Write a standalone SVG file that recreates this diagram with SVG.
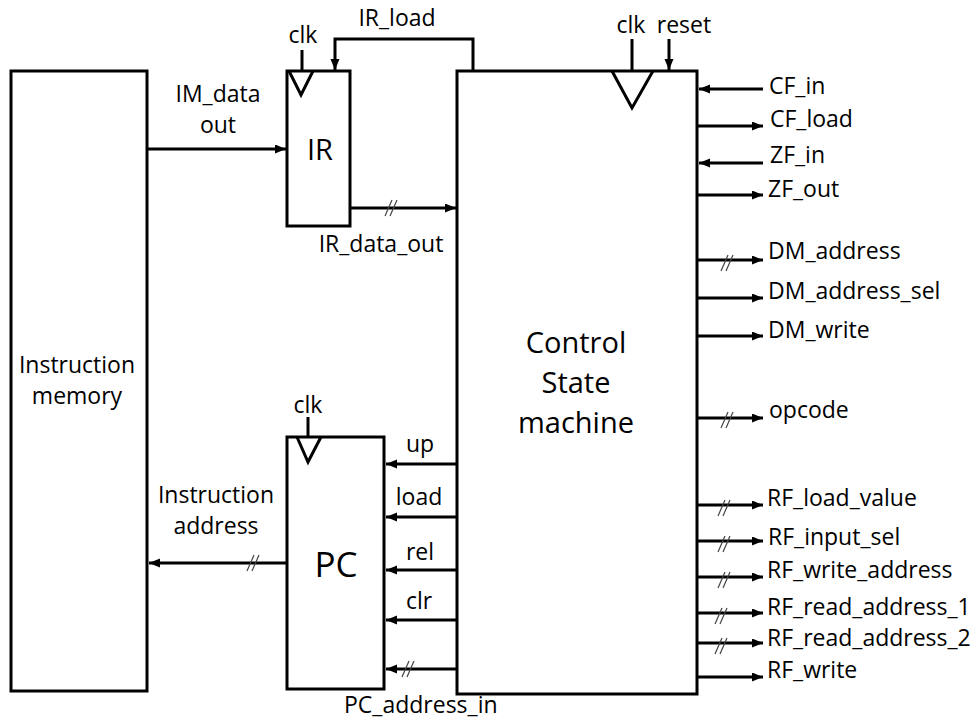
<svg xmlns="http://www.w3.org/2000/svg" width="976" height="724" viewBox="0 0 976 724">
<style>
text{font-family:"Open Sans","Liberation Sans",Arial,sans-serif;fill:#000;font-size:23px}
.box{fill:#fff;stroke:#000;stroke-width:3}
.w{fill:none;stroke:#000;stroke-width:3}
.sl{fill:none;stroke:#444;stroke-width:1.2}
.big{font-size:29px}
.mid{text-anchor:middle}
</style>
<defs>
<marker id="ah" markerUnits="userSpaceOnUse" markerWidth="12" markerHeight="10" refX="11" refY="4.5" orient="auto">
<path d="M0,0 L11,4.5 L0,9 z" fill="#000"/>
</marker>
<path id="slash" class="sl" d="M-7,8 L0,-8 M-2,8 L5,-8"/>
</defs>

<g id="instruction_memory">
<rect class="box" x="11" y="71" width="136" height="620"/>
<text class="mid" x="77" y="373">Instruction</text>
<text class="mid" x="77" y="404">memory</text>
</g>

<g id="IR">
<rect class="box" x="287" y="71" width="63" height="155"/>
<path class="w" d="M289,71 L301,95 L313,71"/>
<path class="w" d="M302,50 V71"/>
<text class="mid" x="303" y="43">clk</text>
<text class="mid big" x="320" y="160">IR</text>
</g>

<g id="PC">
<rect class="box" x="287" y="437" width="97" height="252"/>
<path class="w" d="M297,437 L308,462 L321,437"/>
<path class="w" d="M308,417 V437"/>
<text class="mid" x="308" y="413">clk</text>
<text class="mid" x="336" y="577" style="font-size:35px">PC</text>
</g>

<g id="control_state_machine">
<rect class="box" x="457" y="71" width="240" height="623"/>
<path class="w" d="M612,71 L632,108 L653,71"/>
<text class="mid big" x="576" y="353">Control</text>
<text class="mid big" x="576" y="393">State</text>
<text class="mid big" x="576" y="433">machine</text>
</g>

<g id="connectors">
<path class="w" d="M147,149 H286" marker-end="url(#ah)"/>
<text class="mid" x="218" y="102">IM_data</text>
<text class="mid" x="218" y="133">out</text>
<path class="w" d="M473,71 V39 H335 V70" marker-end="url(#ah)"/>
<text class="mid" x="397" y="26">IR_load</text>
<path class="w" d="M350,208 H456" marker-end="url(#ah)"/>
<use href="#slash" x="392" y="208"/>
<text class="mid" x="381" y="252">IR_data_out</text>
<path class="w" d="M632,39 V71"/>
<text class="mid" x="631" y="33">clk</text>
<path class="w" d="M669,39 V70" marker-end="url(#ah)"/>
<text class="mid" x="684" y="33">reset</text>
<path class="w" d="M287,563 H149" marker-end="url(#ah)"/>
<use href="#slash" x="254" y="563"/>
<text class="mid" x="216" y="503">Instruction</text>
<text class="mid" x="216" y="534">address</text>
<path class="w" d="M457,464 H386" marker-end="url(#ah)"/>
<text class="mid" x="420" y="452">up</text>
<path class="w" d="M457,517 H386" marker-end="url(#ah)"/>
<text class="mid" x="419" y="505">load</text>
<path class="w" d="M457,570 H386" marker-end="url(#ah)"/>
<text class="mid" x="420" y="560">rel</text>
<path class="w" d="M457,620 H386" marker-end="url(#ah)"/>
<text class="mid" x="419" y="609">clr</text>
<path class="w" d="M457,669 H386" marker-end="url(#ah)"/>
<use href="#slash" x="409" y="669"/>
<text x="344" y="713">PC_address_in</text>
<path class="w" d="M763,89 H699" marker-end="url(#ah)"/>
<text x="769" y="94">CF_in</text>
<path class="w" d="M697,126 H763" marker-end="url(#ah)"/>
<text x="770" y="127">CF_load</text>
<path class="w" d="M763,163 H699" marker-end="url(#ah)"/>
<text x="770" y="163">ZF_in</text>
<path class="w" d="M697,195 H763" marker-end="url(#ah)"/>
<text x="768" y="197">ZF_out</text>
<path class="w" d="M697,260 H763" marker-end="url(#ah)"/>
<use href="#slash" x="728" y="263"/>
<text x="768" y="259">DM_address</text>
<path class="w" d="M697,298 H763" marker-end="url(#ah)"/>
<text x="768" y="299">DM_address_sel</text>
<path class="w" d="M697,336 H763" marker-end="url(#ah)"/>
<text x="768" y="338">DM_write</text>
<path class="w" d="M697,418 H763" marker-end="url(#ah)"/>
<use href="#slash" x="728" y="420"/>
<text x="769" y="418">opcode</text>
<path class="w" d="M697,505 H763" marker-end="url(#ah)"/>
<use href="#slash" x="725" y="508"/>
<text x="767" y="506">RF_load_value</text>
<path class="w" d="M697,541 H763" marker-end="url(#ah)"/>
<use href="#slash" x="725" y="544"/>
<text x="768" y="545">RF_input_sel</text>
<path class="w" d="M697,577 H763" marker-end="url(#ah)"/>
<use href="#slash" x="725" y="580"/>
<text x="767" y="578">RF_write_address</text>
<path class="w" d="M697,613 H763" marker-end="url(#ah)"/>
<use href="#slash" x="722" y="616"/>
<text x="767" y="615">RF_read_address_1</text>
<path class="w" d="M697,643 H763" marker-end="url(#ah)"/>
<use href="#slash" x="722" y="646"/>
<text x="767" y="646">RF_read_address_2</text>
<path class="w" d="M697,677 H763" marker-end="url(#ah)"/>
<text x="767" y="678">RF_write</text>
</g>
</svg>
